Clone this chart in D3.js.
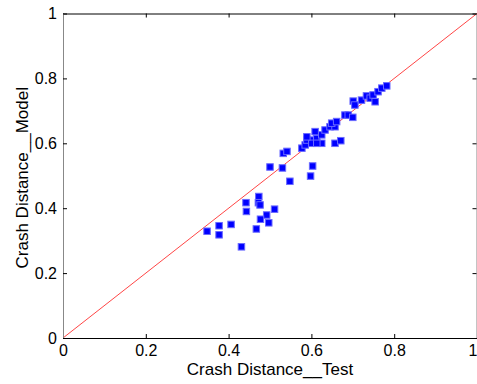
<!DOCTYPE html>
<html>
<head>
<meta charset="utf-8">
<script src="https://cdn.jsdelivr.net/npm/d3@7/dist/d3.min.js"></script>
<style>
  html, body { margin: 0; padding: 0; background: #fff; }
  svg { display: block; }
  text { font-family: Arial, "Liberation Sans", sans-serif; fill: #000; }
</style>
</head>
<body>
<svg id="chart" width="477" height="384"></svg>
<script>
// Measured crash distance (test) vs. model prediction
const testVals = [
  0.348, 0.377, 0.377, 0.406, 0.431, 0.442, 0.443, 0.467, 0.473, 0.472,
  0.476, 0.511, 0.492, 0.477, 0.497, 0.548,
  0.532, 0.541, 0.500, 0.530, 0.603, 0.598, 0.657, 0.671,
  0.577, 0.585, 0.589, 0.601, 0.601, 0.613, 0.609, 0.625, 0.625, 0.633,
  0.645, 0.657, 0.649, 0.661, 0.681, 0.689, 0.700, 0.701, 0.705, 0.721,
  0.733, 0.742, 0.749, 0.754, 0.761, 0.770, 0.782, 0.613, 0.589
];
const modelVals = [
  0.329, 0.346, 0.318, 0.350, 0.281, 0.417, 0.390, 0.336, 0.436, 0.417,
  0.410, 0.397, 0.379, 0.366, 0.355, 0.483,
  0.569, 0.575, 0.527, 0.524, 0.530, 0.499, 0.600, 0.608,
  0.585, 0.595, 0.610, 0.610, 0.600, 0.615, 0.636, 0.626, 0.600, 0.641,
  0.651, 0.651, 0.662, 0.667, 0.687, 0.687, 0.680, 0.730, 0.718, 0.733,
  0.746, 0.739, 0.749, 0.728, 0.759, 0.770, 0.777, 0.600, 0.620
];
const tickVals = [0, 0.2, 0.4, 0.6, 0.8, 1];
const refLine = [[0, 0], [1, 1]];
const xTitle = "Crash Distance__Test";
const yTitle = "Crash Distance__Model";

const svg = d3.select("#chart");
const plotL = 63, plotR = 477, plotT = 13.5, plotB = 338;

const x = d3.scaleLinear().domain([0, 1]).range([plotL, plotR]);
const y = d3.scaleLinear().domain([0, 1]).range([plotB, plotT]);
const fmt = d => d === 0 || d === 1 ? String(d) : d.toFixed(1);

// inward ticks on all four sides
const tickLen = 4;
const xAxisB = d3.axisBottom(x).tickValues(tickVals).tickSizeInner(-tickLen).tickSizeOuter(0).tickPadding(7).tickFormat(fmt);
const xAxisT = d3.axisTop(x).tickValues(tickVals).tickSizeInner(-tickLen).tickSizeOuter(0).tickFormat("");
const yAxisL = d3.axisLeft(y).tickValues(tickVals).tickSizeInner(-tickLen).tickSizeOuter(0).tickPadding(6).tickFormat(fmt);
const yAxisR = d3.axisRight(y).tickValues(tickVals).tickSizeInner(-tickLen).tickSizeOuter(0).tickFormat("");

function styleAxis(g, color) {
  g.select(".domain").attr("stroke", color).attr("stroke-width", 1);
  g.selectAll(".tick line").attr("stroke", "#000");
  g.selectAll(".tick text").style("font-size", "16px").attr("fill", "#000");
}

// reference line y = x
const line = d3.line().x(d => x(d[0])).y(d => y(d[1]));
svg.append("path").datum(refLine)
  .attr("d", line).attr("fill", "none")
  .attr("stroke", "#ff3030").attr("stroke-width", 0.9);

// data markers
const pts = testVals.map((v, i) => [v, modelVals[i]]);
const s = 6.5;
svg.append("g").selectAll("rect").data(pts).join("rect")
  .attr("x", d => x(d[0]) - s / 2)
  .attr("y", d => y(d[1]) - s / 2)
  .attr("width", s).attr("height", s)
  .attr("fill", "#0000ff")
  .attr("stroke", "#6a6aff").attr("stroke-width", 1);

svg.append("g").attr("transform", `translate(0,${plotT})`).call(xAxisT).call(g => styleAxis(g, "#000"));
svg.append("g").attr("transform", `translate(${plotR - 0.5},0)`).call(yAxisR).call(g => styleAxis(g, "#888"));
svg.append("g").attr("transform", `translate(0,${plotB})`).call(xAxisB)
  .call(g => styleAxis(g, "#000"))
  // keep the last label inside the canvas edge
  .call(g => g.selectAll(".tick text").filter(d => d === 1).attr("text-anchor", "end"));
svg.append("g").attr("transform", `translate(${plotL},0)`).call(yAxisL).call(g => styleAxis(g, "#888"));

// axis titles
svg.append("text")
  .attr("x", (plotL + plotR) / 2).attr("y", 375)
  .attr("text-anchor", "middle").style("font-size", "17px")
  .text(xTitle);
svg.append("text")
  .attr("transform", `translate(28,${(plotT + plotB) / 2 + 2}) rotate(-90)`)
  .attr("text-anchor", "middle").style("font-size", "17px")
  .text(yTitle);
</script>
</body>
</html>
